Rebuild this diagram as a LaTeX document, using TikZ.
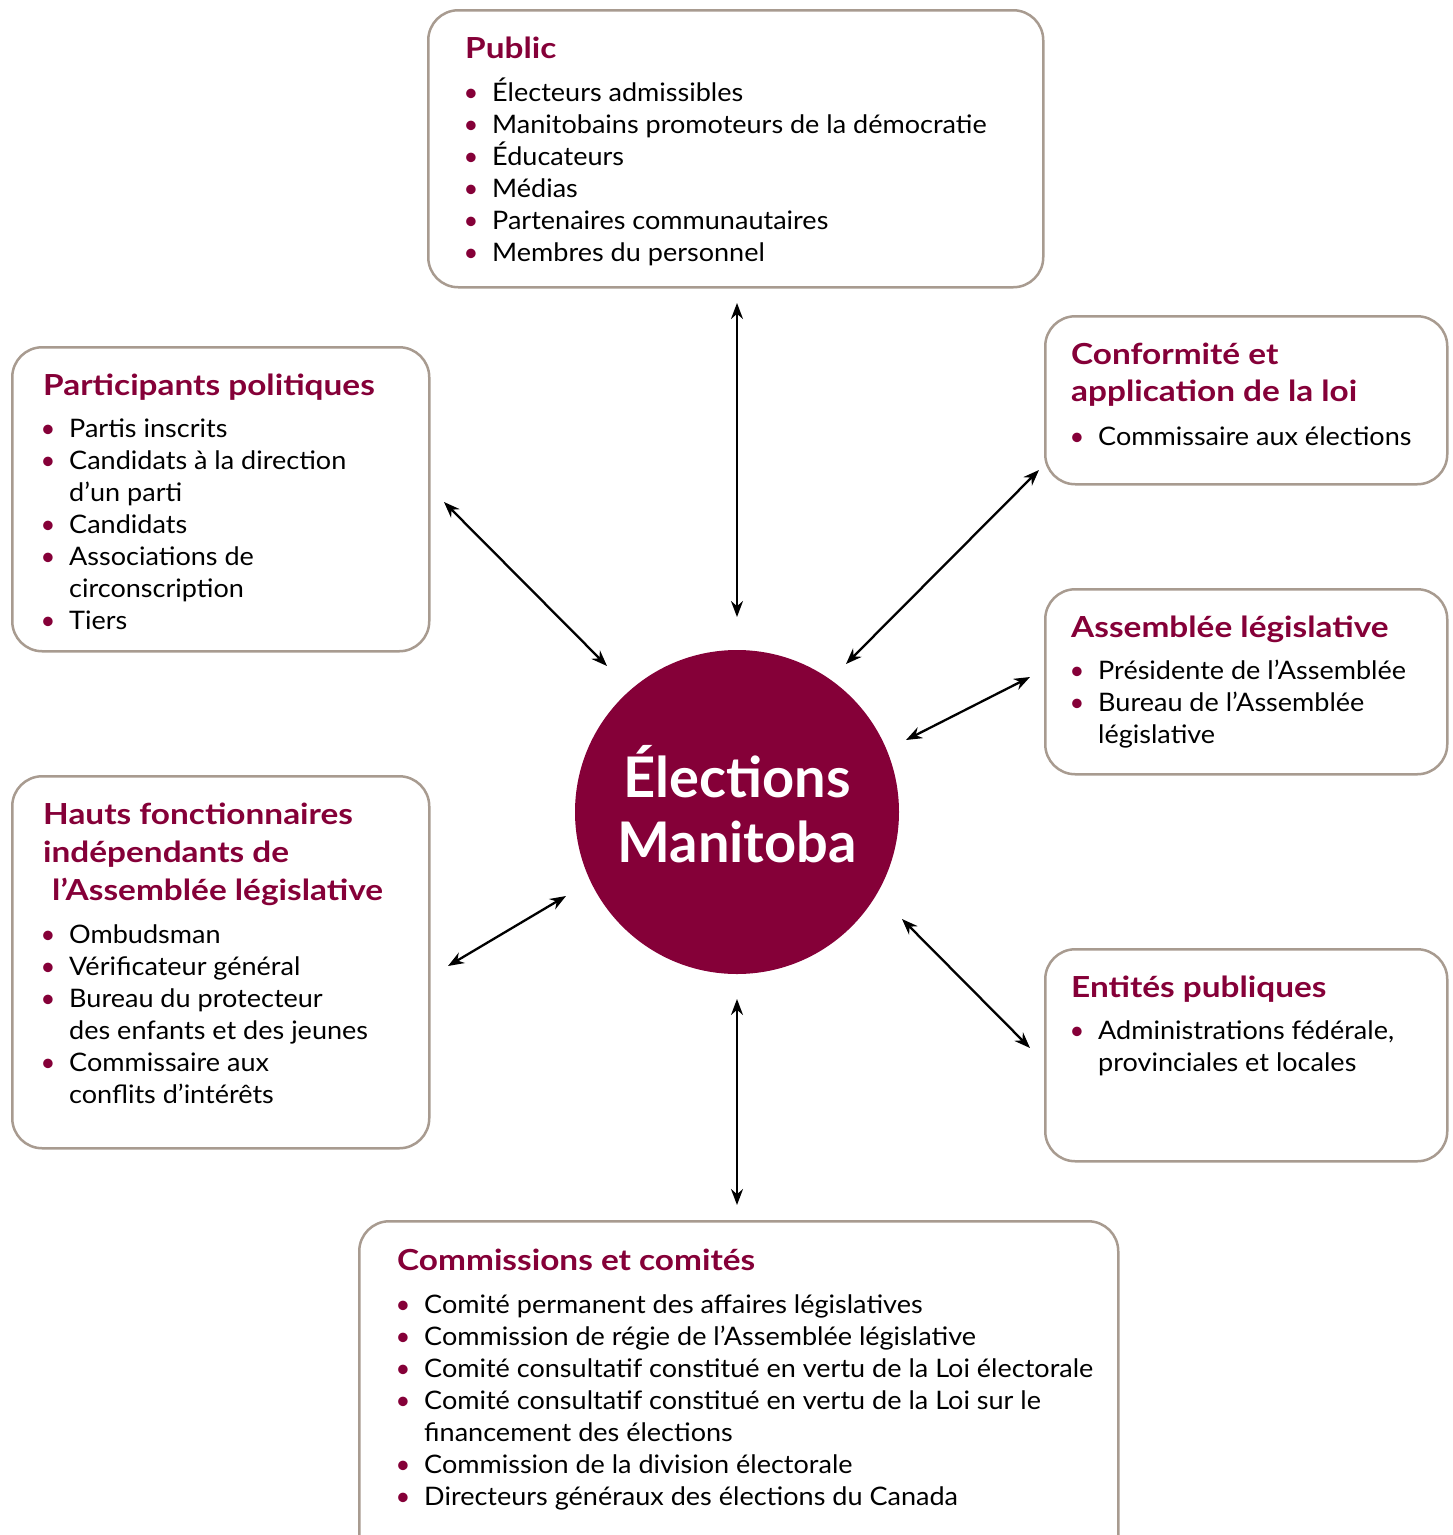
\documentclass[tikz,border=0pt]{standalone}
\usepackage{fontspec}
\setmainfont{Lato}
\newfontfamily\bodyfont{Lato}[FakeStretch=1.06]
\newfontfamily\titlefont{Lato}[FakeStretch=1.15]
\usetikzlibrary{arrows.meta}
\definecolor{emred}{HTML}{850038}
\definecolor{boxline}{HTML}{A89B90}
\tikzset{
  box/.style={draw=boxline, line width=2.5pt, rounded corners=30pt, fill=white, anchor=north west, inner sep=0pt},
  ttl/.style={font=\titlefont\fontsize{29}{36}\selectfont\bfseries, text=emred, anchor=base west, inner sep=0pt},
  itm/.style={font=\bodyfont\fontsize{25.5}{32}\selectfont, text=black, anchor=base west, inner sep=0pt},
  bul/.style={font=\fontsize{25.5}{32}\selectfont, text=emred, anchor=base, inner sep=0pt},
  ctr/.style={font=\fontsize{56}{64}\selectfont\bfseries, text=white, anchor=base, inner sep=0pt},
  arr/.style={line width=2.3pt, {Stealth[length=16pt,width=12pt]}-{Stealth[length=16pt,width=12pt]}}
}
\newcommand\bitem[4]{%
  \node[itm] (#1) at (#2+21,#3) {#4};
  \node[bul] (#1b) at (#2,#3) {•};}
\newcommand\citem[4]{\node[itm] (#1) at (#2+21,#3) {#4};}
\begin{document}
\begin{tikzpicture}[x=1pt,y=-1pt]
\useasboundingbox (0,0) rectangle (1452,1535);
\begin{scope}
\clip (0,0) rectangle (1452,1535);
% boxes
\node[box, minimum width=615pt, minimum height=277pt] (public) at (427,9) {};
\node[box, minimum width=417pt, minimum height=304pt] (part) at (11,346) {};
\node[box, minimum width=402pt, minimum height=168pt] (conf) at (1044,315) {};
\node[box, minimum width=402pt, minimum height=185pt] (assem) at (1044,588) {};
\node[box, minimum width=417pt, minimum height=372pt] (hauts) at (11,775) {};
\node[box, minimum width=402pt, minimum height=212pt] (entites) at (1044,948) {};
\node[box, minimum width=759pt, minimum height=350pt] (comm) at (358,1220) {};
\end{scope}

% centre
\node[circle, fill=emred, minimum size=324pt, inner sep=0pt] (em) at (737,812) {};
\node[ctr] (em1) at (737,797) {Élections};
\node[ctr] (em2) at (737,862) {Manitoba};

% Public
\node[ttl] (pubt) at (465,58) {Public};
\bitem{pu1}{471}{101}{Électeurs admissibles}
\bitem{pu2}{471}{133}{Manitobains promoteurs de la démocratie}
\bitem{pu3}{471}{165}{Éducateurs}
\bitem{pu4}{471}{197}{Médias}
\bitem{pu5}{471}{229}{Partenaires communautaires}
\bitem{pu6}{471}{261}{Membres du personnel}

% Participants politiques
\node[ttl] (part t) at (43,395) {Participants politiques};
\bitem{pa1}{48}{437}{Partis inscrits}
\bitem{pa2}{48}{469}{Candidats à la direction}
\citem{pa3}{48}{501}{d’un parti}
\bitem{pa4}{48}{533}{Candidats}
\bitem{pa5}{48}{565}{Associations de}
\citem{pa6}{48}{597}{circonscription}
\bitem{pa7}{48}{629}{Tiers}

% Conformite
\node[ttl] (conft1) at (1071,364) {Conformité et};
\node[ttl] (conft2) at (1071,401) {application de la loi};
\bitem{co1}{1077}{445}{Commissaire aux élections}

% Assemblee
\node[ttl] (assemt) at (1071,637) {Assemblée législative};
\bitem{as1}{1077}{679}{Présidente de l’Assemblée}
\bitem{as2}{1077}{711}{Bureau de l’Assemblée}
\citem{as3}{1077}{743}{législative}

% Hauts fonctionnaires
\node[ttl] (hautst1) at (43,824) {Hauts fonctionnaires};
\node[ttl] (hautst2) at (43,862) {indépendants de};
\node[ttl] (hautst3) at (52,900) {l’Assemblée législative};
\bitem{ha1}{48}{943}{Ombudsman}
\bitem{ha2}{48}{975}{Vérificateur général}
\bitem{ha3}{48}{1007}{Bureau du protecteur}
\citem{ha4}{48}{1039}{des enfants et des jeunes}
\bitem{ha5}{48}{1071}{Commissaire aux}
\citem{ha6}{48}{1103}{conflits d’intérêts}

% Entites publiques
\node[ttl] (entt) at (1071,997) {Entités publiques};
\bitem{en1}{1077}{1039}{Administrations fédérale,}
\citem{en2}{1077}{1071}{provinciales et locales}

% Commissions
\node[ttl] (commt) at (397,1270) {Commissions et comités};
\bitem{cm1}{403}{1313}{Comité permanent des affaires législatives}
\bitem{cm2}{403}{1345}{Commission de régie de l’Assemblée législative}
\bitem{cm3}{403}{1377}{Comité consultatif constitué en vertu de la Loi électorale}
\bitem{cm4}{403}{1409}{Comité consultatif constitué en vertu de la Loi sur le}
\citem{cm5}{403}{1441}{financement des élections}
\bitem{cm6}{403}{1473}{Commission de la division électorale}
\bitem{cm7}{403}{1505}{Directeurs généraux des élections du Canada}

% arrow end points
\coordinate (a1s) at (737,303);  \coordinate (a1e) at (737,617);
\coordinate (a2s) at (444,502);  \coordinate (a2e) at (607,666);
\coordinate (a3s) at (1039,470); \coordinate (a3e) at (846,664);
\coordinate (a4s) at (1030,677); \coordinate (a4e) at (906,740);
\coordinate (a5s) at (566,896);  \coordinate (a5e) at (448,966);
\coordinate (a6s) at (902,919);  \coordinate (a6e) at (1030,1048);
\coordinate (a7s) at (737,999);  \coordinate (a7e) at (737,1205);
\draw[arr] (a1s) -- (a1e);
\draw[arr] (a2s) -- (a2e);
\draw[arr] (a3s) -- (a3e);
\draw[arr] (a4s) -- (a4e);
\draw[arr] (a5s) -- (a5e);
\draw[arr] (a6s) -- (a6e);
\draw[arr] (a7s) -- (a7e);
\end{tikzpicture}
\end{document}
